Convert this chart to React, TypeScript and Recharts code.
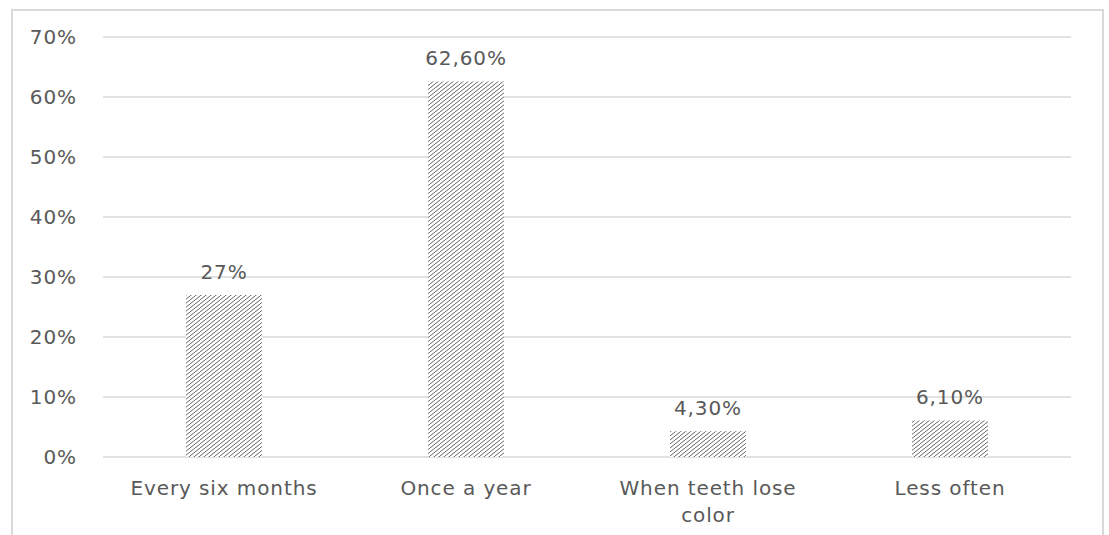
import React from 'react';
import { BarChart, Bar, XAxis, YAxis, CartesianGrid, LabelList } from 'recharts';

const categories = ['Every six months', 'Once a year', 'When teeth lose color', 'Less often'];
const shares = [27, 62.6, 4.3, 6.1];
const yTicks = [0, 10, 20, 30, 40, 50, 60, 70];

const data = categories.map((name, i) => ({ name, value: shares[i] }));

const TEXT = '#595959';
const FONT = '"DejaVu Sans", sans-serif';
const FONT_SIZE = 20;
const SPACING = 0.9;

// 27 -> "27%", 62.6 -> "62,60%"
const formatShare = (v: number) =>
    Number.isInteger(v) ? `${v}%` : `${v.toFixed(2).replace('.', ',')}%`;

// greedy word wrap, at most 16 characters per line
const wrap = (text: string, max = 16) => {
    const lines: string[] = [];
    let cur = '';
    text.split(' ').forEach(w => {
        const next = cur ? `${cur} ${w}` : w;
        if (next.length > max && cur) {
            lines.push(cur);
            cur = w;
        } else {
            cur = next;
        }
    });
    if (cur) lines.push(cur);
    return lines;
};

const CategoryTick = (props: any) => {
    const { x, y, payload } = props;
    const lines = wrap(payload.value);
    return (
        <text
            x={x}
            y={y}
            textAnchor="middle"
            fill={TEXT}
            fontSize={FONT_SIZE}
            fontFamily={FONT}
            letterSpacing={SPACING}
        >
            {lines.map((line, i) => (
                <tspan key={i} x={x} dy={i === 0 ? 30 : 27}>{line}</tspan>
            ))}
        </text>
    );
};

export default function App() {
    return (
        <div style={{ position: 'absolute', left: 0, top: 0, width: 1109, height: 535, background: '#fff' }}>
            <div
                style={{
                    position: 'absolute',
                    left: 11,
                    top: 9,
                    width: 1093,
                    height: 540,
                    border: '2px solid #d9d9d9',
                    boxSizing: 'border-box',
                }}
            />
            <BarChart
                width={1109}
                height={535}
                data={data}
                margin={{ top: 37, right: 38, left: 0, bottom: 48 }}
                style={{ position: 'absolute', left: 0, top: 0 }}
            >
                <defs>
                    <pattern id="hatch" patternUnits="userSpaceOnUse" width="5" height="4">
                        <rect width="5" height="4" fill="#fff" />
                        <path d="M-2.5,2 l2.5,-2 M0,4 l5,-4 M5,4 l2.5,-2" stroke="#505050" strokeWidth="0.9" />
                    </pattern>
                </defs>
                <CartesianGrid vertical={false} stroke="#d9d9d9" strokeWidth={1.5} />
                <XAxis
                    dataKey="name"
                    axisLine={false}
                    tickLine={false}
                    interval={0}
                    tick={<CategoryTick />}
                />
                <YAxis
                    width={103}
                    domain={[0, 70]}
                    ticks={yTicks}
                    axisLine={false}
                    tickLine={false}
                    tickSize={0}
                    tickMargin={26}
                    tickFormatter={(v: number) => `${v}%`}
                    tick={{ fill: TEXT, fontSize: FONT_SIZE, fontFamily: FONT, letterSpacing: SPACING }}
                />
                <Bar dataKey="value" fill="url(#hatch)" barSize={76} isAnimationActive={false}>
                    <LabelList
                        dataKey="value"
                        position="top"
                        offset={16}
                        formatter={(v: any) => formatShare(Number(v))}
                        fill={TEXT}
                        fontSize={FONT_SIZE}
                        fontFamily={FONT}
                        letterSpacing={SPACING}
                    />
                </Bar>
            </BarChart>
        </div>
    );
}
